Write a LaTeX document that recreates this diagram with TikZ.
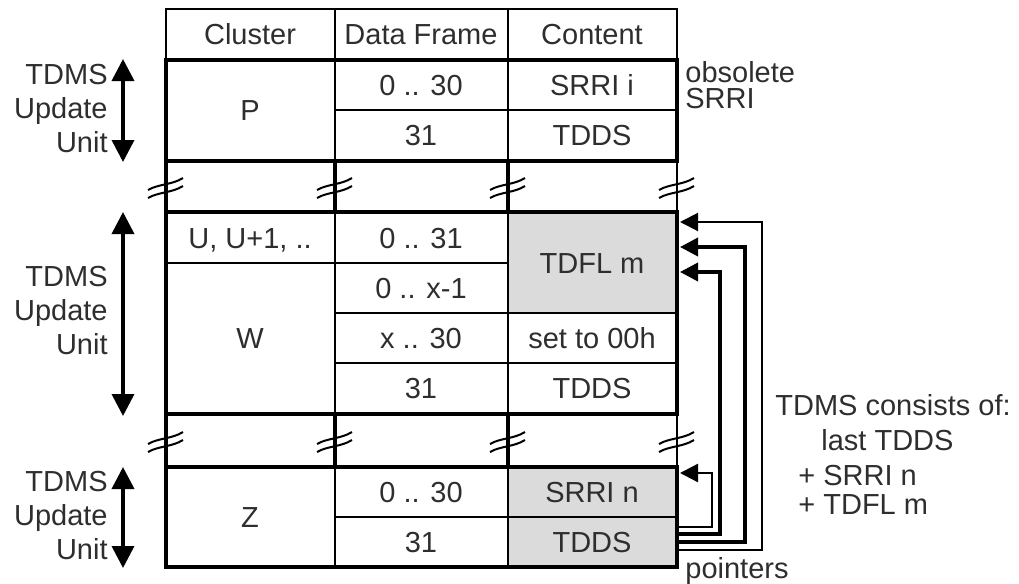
\documentclass[tikz,border=0pt]{standalone}
\usepackage{fontspec}
\setmainfont{Liberation Sans}
\usetikzlibrary{arrows.meta}
\definecolor{ink}{gray}{0.18}
\definecolor{cellgrey}{gray}{0.86}
\newcommand{\lblsize}{\fontsize{14.5}{17}\selectfont}
\tikzset{
  frame/.style={line width=2.4pt},
  rule/.style={line width=0.9pt},
  stub/.style={line width=1.6pt},
  brkline/.style={line width=1pt},
  txt/.style={font=\lblsize, text=ink, inner sep=0pt},
  cell/.style={txt, text height=10.4pt, text depth=0pt},
  side/.style={txt, align=right, anchor=east},
  note/.style={cell, anchor=west},
  unit/.style={line width=1.8pt, {Triangle[length=11pt,width=11pt]}-{Triangle[length=11pt,width=11pt]}},
  ptr/.style={-{Triangle[length=9pt,width=9pt]}},
}
% break mark on a column line
\newcommand{\brk}[2]{%
  \draw[brkline] (#1-18,#2+2) .. controls (#1-8,#2-4) and (#1+6,#2-3) .. (#1+17,#2-10);
  \draw[brkline] (#1-18,#2+10) .. controls (#1-8,#2+4) and (#1+6,#2+5) .. (#1+17,#2-2);
}
\begin{document}
\begin{tikzpicture}[x=0.5pt, y=-0.5pt]
\useasboundingbox (0,0) rectangle (1019,584);
% header
\draw[rule] (166,9) rectangle (677,60);
\draw[rule] (335,9) -- (335,60) (508,9) -- (508,60);
\node[cell] (hcl) at (250,34) {Cluster};
\node[cell] (hdf) at (421,34) {Data Frame};
\node[cell] (hct) at (592,34) {Content};
% cluster P
\draw[rule] (335,60) -- (335,161) (508,60) -- (508,161) (335,110) -- (677,110);
\draw[frame] (166,60) rectangle (677,161);
\node[cell] (pcl) at (250,110) {P};
\node[cell] (pdf1) at (421,85) {0 .. 30};
\node[cell] (pct1) at (592,85) {SRRI i};
\node[cell] (pdf2) at (421,135) {31};
\node[cell] (pct2) at (592,135) {TDDS};
% gaps between clusters
\foreach \y/\a/\b in {188/161/212, 442/414/467} {
  \foreach \x in {166,335,508} \draw[stub] (\x,\a) -- (\x,\b);
  \draw[rule] (677,\a) -- (677,\b);
  \foreach \x in {166,335,508,677} \brk{\x}{\y};
}
% clusters U .. W
\fill[cellgrey] (508,212) rectangle (677,313);
\draw[rule] (166,263) -- (508,263) (335,313) -- (677,313) (335,363) -- (677,363)
  (335,212) -- (335,414) (508,212) -- (508,414);
\draw[frame] (166,212) rectangle (677,414);
\node[cell] (ucl) at (250,238) {U, U+1, ..};
\node[cell] (udf) at (421,238) {0 .. 31};
\node[cell] (wct1) at (592,263) {TDFL m};
\node[cell] (wcl) at (250,338) {W};
\node[cell] (wdf1) at (421,288) {0 .. x-1};
\node[cell] (wdf2) at (421,338) {x .. 30};
\node[cell] (wct2) at (592,338) {set to 00h};
\node[cell] (wdf3) at (421,388) {31};
\node[cell] (wct3) at (592,388) {TDDS};
% cluster Z
\fill[cellgrey] (508,467) rectangle (677,567);
\draw[rule] (335,467) -- (335,567) (508,467) -- (508,567) (335,517) -- (677,517);
\draw[frame] (166,467) rectangle (677,567);
\node[cell] (zcl) at (250,517) {Z};
\node[cell] (zdf1) at (421,492) {0 .. 30};
\node[cell] (zct1) at (592,492) {SRRI n};
\node[cell] (zdf2) at (421,542) {31};
\node[cell] (zct2) at (592,542) {TDDS};
% update units
\coordinate (pu1) at (123,59);  \coordinate (pu2) at (123,162);
\coordinate (wu1) at (123,212); \coordinate (wu2) at (123,416);
\coordinate (zu1) at (123,467); \coordinate (zu2) at (123,568);
\draw[unit] (pu1) -- (pu2);
\draw[unit] (wu1) -- (wu2);
\draw[unit] (zu1) -- (zu2);
\node[side] (plab) at (108,109) {TDMS\\Update\\Unit};
\node[side] (wlab) at (108,311) {TDMS\\Update\\Unit};
\node[side] (zlab) at (108,516) {TDMS\\Update\\Unit};
% pointers from last TDDS
\coordinate (s1) at (677,527); \coordinate (t1) at (680,473);
\coordinate (s2) at (677,534); \coordinate (t2) at (680,272);
\coordinate (s3) at (677,542); \coordinate (t3) at (680,247);
\coordinate (s4) at (677,550); \coordinate (t4) at (680,222);
\draw[ptr, line width=1.2pt] (s1) -- ++(35,0) |- (t1);
\draw[ptr, line width=1.8pt] (s2) -- ++(43,0) |- (t2);
\draw[ptr, line width=1.8pt] (s3) -- ++(68,0) |- (t3);
\draw[ptr, line width=1pt] (s4) -- ++(85,0) |- (t4);
% notes
\node[note] (obs1) at (685,72) {obsolete};
\node[note] (obs2) at (685,98) {SRRI};
\node[note] (cons1) at (775,405) {TDMS consists of:};
\node[note] (cons2) at (821,440) {last TDDS};
\node[note] (cons3) at (798,475) {+ SRRI n};
\node[note] (cons4) at (798,504) {+ TDFL m};
\node[note] (ptrl) at (685,568) {pointers};
\end{tikzpicture}
\end{document}
